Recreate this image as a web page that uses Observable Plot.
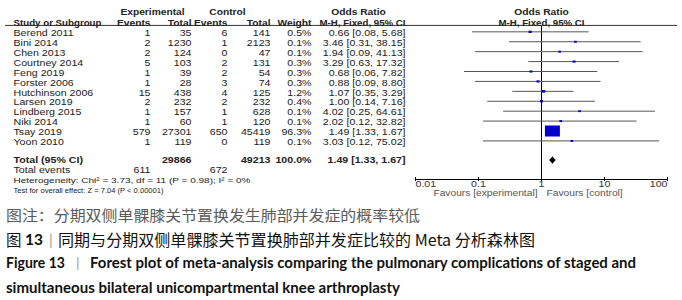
<!DOCTYPE html>
<html><head><meta charset="utf-8">
<script src="https://cdn.jsdelivr.net/npm/d3@7"></script>
<script src="https://cdn.jsdelivr.net/npm/@observablehq/plot@0.6"></script>
<style>
body{margin:0;background:#fff;}
#wrap{width:682px;height:300px;position:relative;overflow:hidden;background:#fff;}
#wrap svg{display:block;}
</style></head><body><div id="wrap"></div>
<script>
// ---- data ----
const studies = ["Berend 2011","Bini 2014","Chen 2013","Courtney 2014","Feng 2019","Forster 2006","Hutchinson 2006","Larsen 2019","Lindberg 2015","Niki 2014","Tsay 2019","Yoon 2010"];
const expEvents = [1,2,2,5,1,1,15,2,1,1,579,1];
const expTotal = [35,1230,124,103,39,28,438,232,157,60,27301,119];
const ctrlEvents = [6,1,0,2,2,3,4,2,1,1,650,0];
const ctrlTotal = [141,2123,47,131,54,74,125,232,628,120,45419,119];
const weights = [0.5,0.1,0.1,0.3,0.3,0.3,1.2,0.4,0.1,0.1,96.3,0.1];
const oddsRatio = [0.66,3.46,1.94,3.29,0.68,0.88,1.07,1.00,4.02,2.02,1.49,3.03];
const ciLow = [0.08,0.31,0.09,0.63,0.06,0.09,0.35,0.14,0.25,0.12,1.33,0.12];
const ciHigh = [5.68,38.15,41.13,17.32,7.82,8.80,3.29,7.16,64.61,32.82,1.67,75.02];
const totalLabel = "Total (95% CI)";
const totalN = [29866, 49213];
const totalWeight = 100.0;
const totalEvents = [611, 672];
const pooled = [1.49, 1.33, 1.67];
const heterogeneityText = "Heterogeneity: Chi\u00b2 = 3.73, df = 11 (P = 0.98); I\u00b2 = 0%";
const overallText = "Test for overall effect: Z = 7.04 (P < 0.00001)";
const tickVals = [0.01, 0.1, 1, 10, 100];
const tickLabels = ["0.01", "0.1", "1", "10", "100"];
const favours = ["Favours [experimental]", "Favours [control]"];
const headerTop = ["Experimental", "Control", "Odds Ratio", "Odds Ratio"];
const headerSub = ["Study or Subgroup", "Events", "Total", "Events", "Total", "Weight", "M-H, Fixed, 95% CI", "M-H, Fixed, 95% CI"];

// ---- build ----
const rows = studies.map((id, i) => ({id, e1: expEvents[i], n1: expTotal[i], e2: ctrlEvents[i], n2: ctrlTotal[i], w: weights[i], or: oddsRatio[i], lo: ciLow[i], hi: ciHigh[i]}));
const fmtOR = (o, l, h) => `${o.toFixed(2)} [${l.toFixed(2)}, ${h.toFixed(2)}]`;
const rowDomain = ["h1", "h2", ...studies, "gap", totalLabel, "Total events", "Heterogeneity", "Test"];

const ML = 415, MR = 15, W = 682;
const col = {study: 13, e1: 150, n1: 191, e2: 227, n2: 270, w: 311, or: 405, expC: 152, ctrlC: 227, orC: 358};
const X = (px) => px - ML; // dx offset from left frame edge

function colText(data, y, text, px, anchor, extra = {}) {
  return Plot.text(data, {y, text, frameAnchor: "left", dx: X(px), textAnchor: anchor, ...extra});
}
const S = (f) => (d) => String(f(d));
const HB = {fontWeight: "bold", fontSize: 8.2};

const boxSymbol = {draw(ctx, size) { const r = Math.sqrt(size / Math.PI); const w = r * 2.03, h = r * 1.49; ctx.rect(-w / 2, -h / 2, w, h); }};
const diamondSymbol = {draw(ctx) { ctx.moveTo(-3.3, 0); ctx.lineTo(0, -3.6); ctx.lineTo(3.3, 0); ctx.lineTo(0, 3.6); ctx.closePath(); }};

const txt = "#222";
const plot = Plot.plot({
  width: W, height: 200,
  marginLeft: ML, marginRight: MR, marginTop: 26, marginBottom: 21,
  x: {type: "log", domain: [0.01, 100], axis: null},
  y: {type: "point", domain: rowDomain, range: [11.5, 190], padding: 0, round: false, axis: null},
  r: {type: "sqrt", domain: [0, 100], range: [1.1, 7.5]},
  style: {fontFamily: "'Liberation Sans', Arial, sans-serif", fontSize: "8.5px", color: txt, background: "white"},
  marks: [
    Plot.ruleY(["h2"], {y: d => d, dy: 3.5, insetLeft: -(ML - 5), insetRight: -(MR - 5), stroke: "#333", strokeWidth: 1}),
    colText([headerTop[0]], () => "h1", d => d, col.expC, "middle", HB),
    colText([headerTop[1]], () => "h1", d => d, col.ctrlC, "middle", HB),
    colText([headerTop[2]], () => "h1", d => d, col.orC, "middle", HB),
    Plot.text([headerTop[3]], {x: () => 1, y: () => "h1", text: d => d, ...HB}),
    colText([headerSub[0]], () => "h2", d => d, col.study, "start", {...HB, dy: 1}),
    colText([headerSub[1]], () => "h2", d => d, col.e1, "end", {...HB, dy: 1}),
    colText([headerSub[2]], () => "h2", d => d, col.n1, "end", {...HB, dy: 1}),
    colText([headerSub[3]], () => "h2", d => d, col.e2, "end", {...HB, dy: 1}),
    colText([headerSub[4]], () => "h2", d => d, col.n2, "end", {...HB, dy: 1}),
    colText([headerSub[5]], () => "h2", d => d, col.w, "end", {...HB, dy: 1}),
    colText([headerSub[6]], () => "h2", d => d, col.or, "end", {...HB, dy: 1}),
    Plot.text([headerSub[7]], {x: () => 1, y: () => "h2", text: d => d, ...HB, dy: 1}),
    colText(rows, "id", "id", col.study, "start", {dy: 1.5}),
    colText(rows, "id", S(d => d.e1), col.e1, "end", {dy: 1.5}),
    colText(rows, "id", S(d => d.n1), col.n1, "end", {dy: 1.5}),
    colText(rows, "id", S(d => d.e2), col.e2, "end", {dy: 1.5}),
    colText(rows, "id", S(d => d.n2), col.n2, "end", {dy: 1.5}),
    colText(rows, "id", d => d.w.toFixed(1) + "%", col.w, "end", {dy: 1.5}),
    colText(rows, "id", d => fmtOR(d.or, d.lo, d.hi), col.or, "end", {dy: 1.5}),
    colText([totalLabel], d => d, d => d, col.study, "start", {fontWeight: "bold"}),
    colText([totalN[0]], () => totalLabel, S(d => d), col.n1, "end", {fontWeight: "bold"}),
    colText([totalN[1]], () => totalLabel, S(d => d), col.n2, "end", {fontWeight: "bold"}),
    colText([totalWeight], () => totalLabel, d => d.toFixed(1) + "%", col.w, "end", {fontWeight: "bold"}),
    colText([pooled], () => totalLabel, d => fmtOR(d[0], d[1], d[2]), col.or, "end", {fontWeight: "bold"}),
    colText(["Total events"], d => d, d => d, col.study, "start"),
    colText([totalEvents[0]], () => "Total events", S(d => d), col.e1, "end"),
    colText([totalEvents[1]], () => "Total events", S(d => d), col.e2, "end"),
    colText([heterogeneityText], () => "Heterogeneity", d => d, col.study, "start", {fontSize: 8}),
    colText([overallText], () => "Test", d => d, col.study, "start", {fontSize: 7.5}),
    Plot.ruleX([1], {stroke: "#000", strokeWidth: 1}),
    Plot.ruleY(rows, {y: "id", x1: "lo", x2: "hi", stroke: "#555", strokeWidth: 1}),
    Plot.dot(rows, {x: "or", y: "id", r: "w", symbol: boxSymbol, fill: "#0000c8", stroke: null}),
    Plot.dot([pooled], {x: d => d[0], y: () => totalLabel, symbol: diamondSymbol, fill: "#000", stroke: null, dy: -0.7}),
    Plot.frame({anchor: "bottom", stroke: "#000"}),
    Plot.axisX({ticks: tickVals, tickSize: 4, tickFormat: () => "", dy: -2, stroke: "#000"}),
    Plot.text(tickVals.slice(0, 1), {x: d => d, text: (d) => tickLabels[tickVals.indexOf(d)], frameAnchor: "bottom", dy: 7, textAnchor: "start", fontSize: 8.5, fill: "#333"}),
    Plot.text(tickVals.slice(1, -1), {x: d => d, text: (d) => tickLabels[tickVals.indexOf(d)], frameAnchor: "bottom", dy: 7, textAnchor: "middle", fontSize: 8.5, fill: "#333"}),
    Plot.text(tickVals.slice(-1), {x: d => d, text: (d) => tickLabels[tickVals.indexOf(d)], frameAnchor: "bottom", dy: 7, textAnchor: "end", fontSize: 8.5, fill: "#333"}),
    Plot.text([favours[0]], {x: () => 1, text: d => d, frameAnchor: "bottom", dy: 16, dx: -4, textAnchor: "end", fontSize: 8.2, fill: "#555"}),
    Plot.text([favours[1]], {x: () => 1, text: d => d, frameAnchor: "bottom", dy: 16, dx: 5, textAnchor: "start", fontSize: 8.2, fill: "#555"})
  ]
});
const wrap = document.getElementById("wrap");
wrap.appendChild(plot);
// horizontal stretch of the chart texts (the reference's lettering is wide); the text anchor stays in place
const K = 1.25;
const fixedWidth = new Map([[overallText, 150], [headerSub[6], 86], [headerSub[0], 88]]);
d3.select(plot).selectAll("text").each(function() {
  const L = this.getComputedTextLength();
  if (!(L > 0)) return;
  const target = fixedWidth.get(this.textContent) || L * K;
  this.setAttribute("textLength", target.toFixed(2));
  this.setAttribute("lengthAdjust", "spacingAndGlyphs");
});

// ---- captions ----
const capNote = "图注：分期双侧单髁膝关节置换发生肺部并发症的概率较低";
const capCnLabel = ["图", "13", "|"];
const capCnText = "同期与分期双侧单髁膝关节置换肺部并发症比较的 Meta 分析森林图";
const capEnLabel = ["Figure 13", "|"];
const capEnLine1 = "Forest plot of meta-analysis comparing the pulmonary complications of staged and";
const capEnLine2 = "simultaneous bilateral unicompartmental knee arthroplasty";

const cap = d3.create("svg").attr("width", W).attr("height", 100).attr("viewBox", `0 0 ${W} 100`);
const cn = "'Noto Sans CJK SC', sans-serif", en = "Lato, 'Open Sans', sans-serif";
function t(s, x, y, o) {
  const e = cap.append("text").attr("x", x).attr("y", y).attr("dominant-baseline", "central").text(s)
    .attr("font-family", o.ff).attr("font-size", o.fs).attr("fill", o.fill || "#111").attr("font-weight", o.fw || "normal");
  if (o.len) e.attr("textLength", o.len).attr("lengthAdjust", "spacingAndGlyphs");
  return e;
}
t(capNote, 6, 14, {ff: cn, fs: 15, fill: "#5a5a5a", len: 414});
t(capCnLabel[0], 6, 38.5, {ff: cn, fs: 15.5, fill: "#111"});
t(capCnLabel[1], 25, 38.5, {ff: en, fs: 15.5, fw: "bold", fill: "#111"});
t(capCnLabel[2], 49, 38.5, {ff: en, fs: 15, fill: "#999"});
t(capCnText, 58, 38.5, {ff: cn, fs: 15.5, fill: "#111", len: 477});
t(capEnLabel[0], 6, 62.5, {ff: en, fs: 14.5, fw: "bold", fill: "#111", len: 59});
t(capEnLabel[1], 76, 62.5, {ff: en, fs: 14, fill: "#999"});
t(capEnLine1, 90, 62.5, {ff: en, fs: 14.5, fw: "bold", fill: "#111", len: 546});
t(capEnLine2, 6, 87, {ff: en, fs: 14.5, fw: "bold", fill: "#111", len: 394});
wrap.appendChild(cap.node());
</script></body></html>
